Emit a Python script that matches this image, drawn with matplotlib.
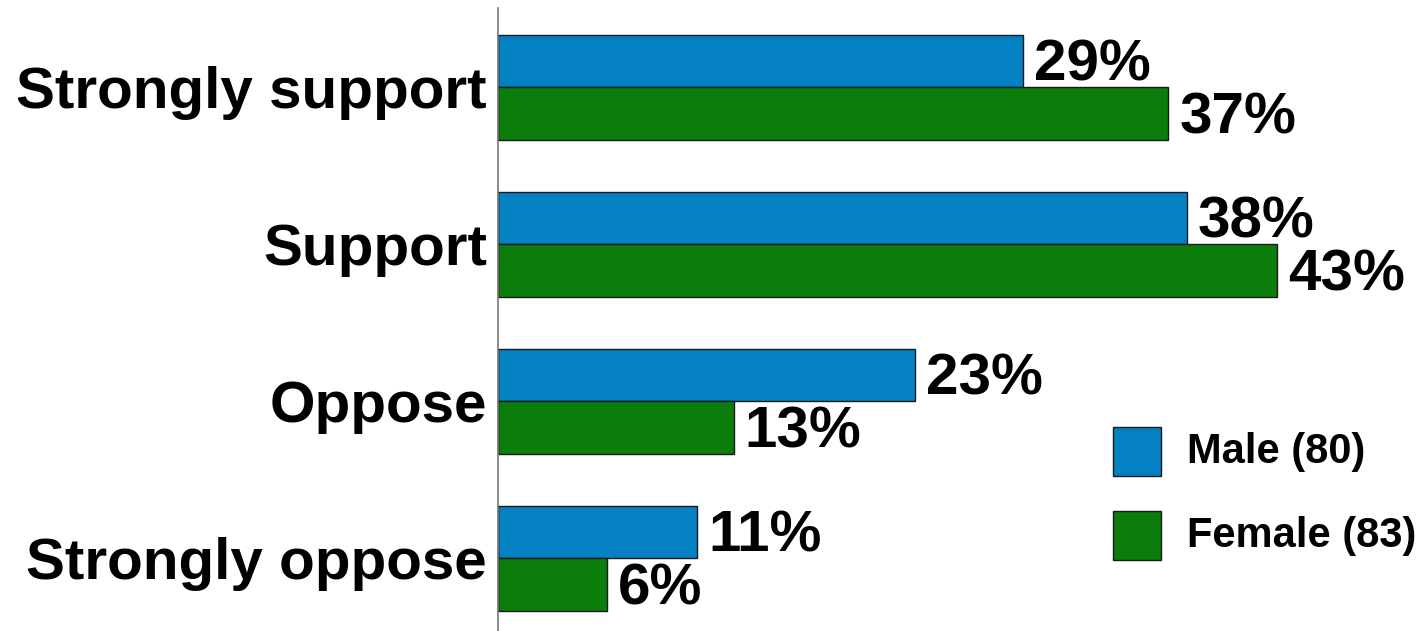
import matplotlib
matplotlib.use("Agg")
import matplotlib.pyplot as plt
from matplotlib.patches import Rectangle
import numpy as np

categories = ["Strongly support", "Support", "Oppose", "Strongly oppose"]
male = [29, 38, 23, 11]
female = [37, 43, 13, 6]
series_names = ["Male (80)", "Female (83)"]
colors = ["#0381C2", "#0B7D0B"]

plt.rcParams['font.family'] = ['Liberation Sans', 'DejaVu Sans']
plt.rcParams['font.weight'] = 'bold'

fig = plt.figure(figsize=(14.2, 6.31), dpi=100)
W, H = 1420, 631
ax = fig.add_axes([498 / W, 0, 906 / W, 623 / H])

y = np.arange(len(categories))
h = 52.5 / 157
for vals, off, col in [(male, -h / 2, colors[0]), (female, h / 2, colors[1])]:
    bars = ax.barh(y + off, vals, height=h, color=col, edgecolor="#1a1a1a", linewidth=1.0)
    for b, v in zip(bars, vals):
        ax.text(b.get_width() + 0.6, b.get_y() + b.get_height() / 2 + 0.03, f"{v}%",
                va="center", ha="left", fontsize=42, fontweight="bold", color="black")

ax.set_xlim(0, 50)
ax.set_ylim(3.462, -0.506)
ax.set_yticks(y)
ax.set_yticklabels(categories, fontsize=42, fontweight="bold")
ax.tick_params(axis="y", length=0, pad=8)
ax.set_xticks([])
for s in ["top", "right", "bottom"]:
    ax.spines[s].set_visible(False)
ax.spines["left"].set_color("#777777")
ax.spines["left"].set_linewidth(1.2)

# legend
box_y = [476, 560]
for name, col, by in zip(series_names, colors, box_y):
    fig.add_artist(Rectangle((1113 / W, (H - by) / H), 48 / W, 49 / H,
                             transform=fig.transFigure, facecolor=col,
                             edgecolor="#1a1a1a", linewidth=1.0))
    fig.text(1187 / W, (H - by + 24.5) / H, name, fontsize=30, fontweight="bold",
             va="center", ha="left")

fig.savefig("out.png", dpi=100)
